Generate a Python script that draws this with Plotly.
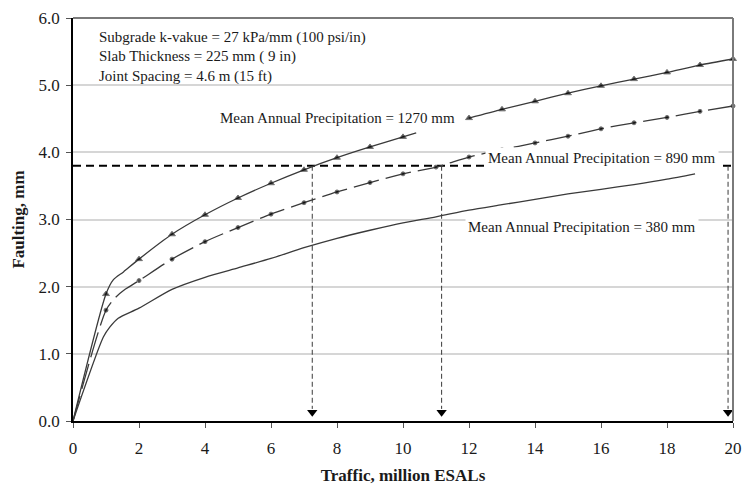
import plotly.graph_objects as go

# ---- data ----
x_1270 = [0, 1, 1.22, 1.53, 2, 3, 4, 5, 6, 7, 8, 9, 10, 10.4, 11, 12, 13, 14, 15, 16, 17, 18, 19, 20]
y_1270 = [0, 1.89, 2.10, 2.22, 2.41, 2.78, 3.07, 3.32, 3.54, 3.74, 3.92, 4.08, 4.23, 4.29, None,
          4.51, 4.64, 4.76, 4.88, 4.99, 5.09, 5.19, 5.30, 5.39]

x_890 = [0, 1, 1.27, 1.58, 2, 3, 4, 5, 6, 7, 8, 9, 10, 11, 12, 13, 14, 15, 16, 17, 18, 19, 20]
y_890 = [0, 1.65, 1.83, 1.96, 2.09, 2.41, 2.67, 2.88, 3.08, 3.25, 3.41, 3.55, 3.68, 3.78, 3.93,
         4.04, 4.14, 4.24, 4.35, 4.44, 4.52, 4.61, 4.69]

x_380 = [0, 0.92, 1.12, 1.37, 2, 3, 4, 5, 6, 7, 8, 9, 10, 11, 12, 13, 14, 15, 16, 17, 18, 18.85]
y_380 = [0, 1.25, 1.40, 1.53, 1.68, 1.96, 2.14, 2.28, 2.42, 2.58, 2.72, 2.84, 2.95, 3.04, 3.14,
         3.22, 3.30, 3.38, 3.45, 3.52, 3.60, 3.68]

design_faulting = 3.8
crossing_traffic = [7.25, 11.17, 19.85]
arrow_tip = 0.13

notes = ["Subgrade k-vakue = 27 kPa/mm (100 psi/in)",
         "Slab Thickness = 225 mm ( 9 in)",
         "Joint Spacing = 4.6 m (15 ft)"]
series_labels = ["Mean Annual Precipitation = 1270 mm",
                 "Mean Annual Precipitation = 890 mm",
                 "Mean Annual Precipitation = 380 mm"]

FONT = "Liberation Serif"
LINE = "#3a3a3a"


def marker_sizes(xs, size):
    return [size if float(v).is_integer() and v != 0 else 0 for v in xs]


fig = go.Figure()

# horizontal design line
fig.add_trace(go.Scatter(x=[0, 20], y=[design_faulting, design_faulting], mode="lines",
                         line=dict(color="black", width=2, dash="8px,5px"),
                         hoverinfo="skip", showlegend=False))

# vertical dashed arrows
for xc in crossing_traffic:
    fig.add_trace(go.Scatter(x=[xc, xc], y=[design_faulting, arrow_tip + 0.05], mode="lines",
                             line=dict(color=LINE, width=1, dash="5px,3px"),
                             hoverinfo="skip", showlegend=False))
fig.add_trace(go.Scatter(x=crossing_traffic, y=[arrow_tip] * len(crossing_traffic), mode="markers",
                         marker=dict(symbol="triangle-down", size=9, color="black"),
                         hoverinfo="skip", showlegend=False, cliponaxis=False))

fig.add_trace(go.Scatter(x=x_380, y=y_380, mode="lines",
                         line=dict(color=LINE, width=1.3, shape="spline", smoothing=0.7),
                         showlegend=False))
fig.add_trace(go.Scatter(x=x_890, y=y_890, mode="lines+markers",
                         line=dict(color=LINE, width=1.3, dash="26px,7px", shape="spline", smoothing=0.7),
                         marker=dict(symbol="circle", size=marker_sizes(x_890, 4), color="black"),
                         showlegend=False, cliponaxis=False))
fig.add_trace(go.Scatter(x=x_1270, y=y_1270, mode="lines+markers", connectgaps=False,
                         line=dict(color=LINE, width=1.3, shape="spline", smoothing=0.7),
                         marker=dict(symbol="triangle-up", size=marker_sizes(x_1270, 6), color="black"),
                         showlegend=False, cliponaxis=False))

# notes
for i, t in enumerate(notes):
    fig.add_annotation(x=0.73, y=5.71 - i * 0.29, text=t, showarrow=False, xanchor="left",
                       yanchor="middle", font=dict(family=FONT, size=15, color="#1a1a1a"))

label_pos = [(8.03, 4.51), (16.03, 3.91), (15.42, 2.89)]
for t, (lx, ly) in zip(series_labels, label_pos):
    fig.add_annotation(x=lx, y=ly, text=t, showarrow=False, bgcolor="white", borderpad=2,
                       font=dict(family=FONT, size=15, color="#1a1a1a"))

# top and right frame
fig.add_shape(type="line", xref="paper", yref="paper", x0=0, x1=1, y0=1, y1=1,
              line=dict(color="#7a7a7a", width=2))
fig.add_shape(type="line", xref="paper", yref="paper", x0=1, x1=1, y0=0, y1=1,
              line=dict(color="#7a7a7a", width=2))

fig.update_layout(
    width=750, height=489,
    margin=dict(l=73, r=17, t=18, b=68),
    plot_bgcolor="white", paper_bgcolor="white",
    font=dict(family=FONT, size=17, color="#1a1a1a"),
    xaxis=dict(range=[0, 20], tickvals=list(range(0, 21, 2)), showgrid=False, zeroline=False,
               showline=True, linecolor="black", linewidth=1.5, automargin=False,
               ticks="outside", ticklen=5, tickcolor="#555", ticklabelstandoff=6,
               tickfont=dict(family=FONT, size=17),
               title=dict(text="<b>Traffic, million ESALs</b>", standoff=12,
                          font=dict(family=FONT, size=17))),
    yaxis=dict(range=[0, 6], dtick=1, tickformat=".1f", showgrid=True, gridcolor="#d6d6d6",
               gridwidth=1.5, zeroline=False, showline=True, linecolor="black", linewidth=1.5,
               automargin=False,
               ticks="outside", ticklen=5, tickcolor="#555", ticklabelstandoff=3,
               tickfont=dict(family=FONT, size=17),
               title=dict(text="<b>Faulting, mm</b>", standoff=10,
                          font=dict(family=FONT, size=17))),
)

fig.write_html("out.html")
